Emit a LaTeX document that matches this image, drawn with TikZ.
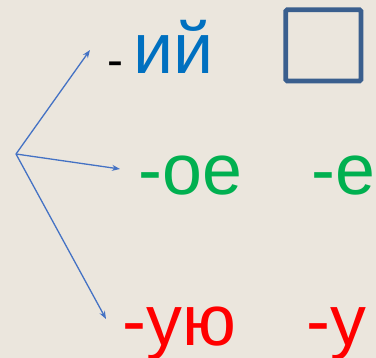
\documentclass[tikz,border=0pt]{standalone}
\usepackage{fontspec}
\setmainfont{Liberation Sans}
\usetikzlibrary{arrows.meta}
\definecolor{bgc}{HTML}{EBE6DD}
\definecolor{arrc}{HTML}{4472C4}
\definecolor{boxc}{HTML}{3A5F8E}
\definecolor{bluet}{HTML}{0070C0}
\definecolor{greent}{HTML}{00B050}
\definecolor{redt}{HTML}{FF0000}
\tikzset{
  big/.style={inner sep=0pt, anchor=base west, font=\fontsize{72}{72}\selectfont},
  conn/.style={draw=arrc, line width=1.3bp, -{Stealth[length=8bp,width=6bp]}},
}
\begin{document}
\begin{tikzpicture}[x=1bp,y=-1bp]
\fill[bgc] (0,0) rectangle (376,358);
\useasboundingbox (0,0) rectangle (376,358);
\node[inner sep=0pt, anchor=base west, font=\fontsize{48}{48}\selectfont] (dash) at (107.8,76.8) {-};
\node[big, text=bluet] (ij) at (133.5,73) {ий};
\draw[boxc, line width=4.7bp, rounded corners=1.5bp] (285.7,9.7) rectangle (361,81);
\node[big, text=greent] (oe) at (138.4,194) {-ое};
\node[big, text=greent] (e) at (311.7,194) {-е};
\node[big, text=redt] (uyu) at (122.7,345) {-ую};
\node[big, text=redt] (u) at (306.7,345) {-у};
\coordinate (O) at (16,154);
\coordinate (t1) at (90,50);
\coordinate (t2) at (120,169);
\coordinate (t3) at (106,319);
\draw[conn] (O) -- (t1);
\draw[conn] (O) -- (t2);
\draw[conn] (O) -- (t3);
\end{tikzpicture}
\end{document}
